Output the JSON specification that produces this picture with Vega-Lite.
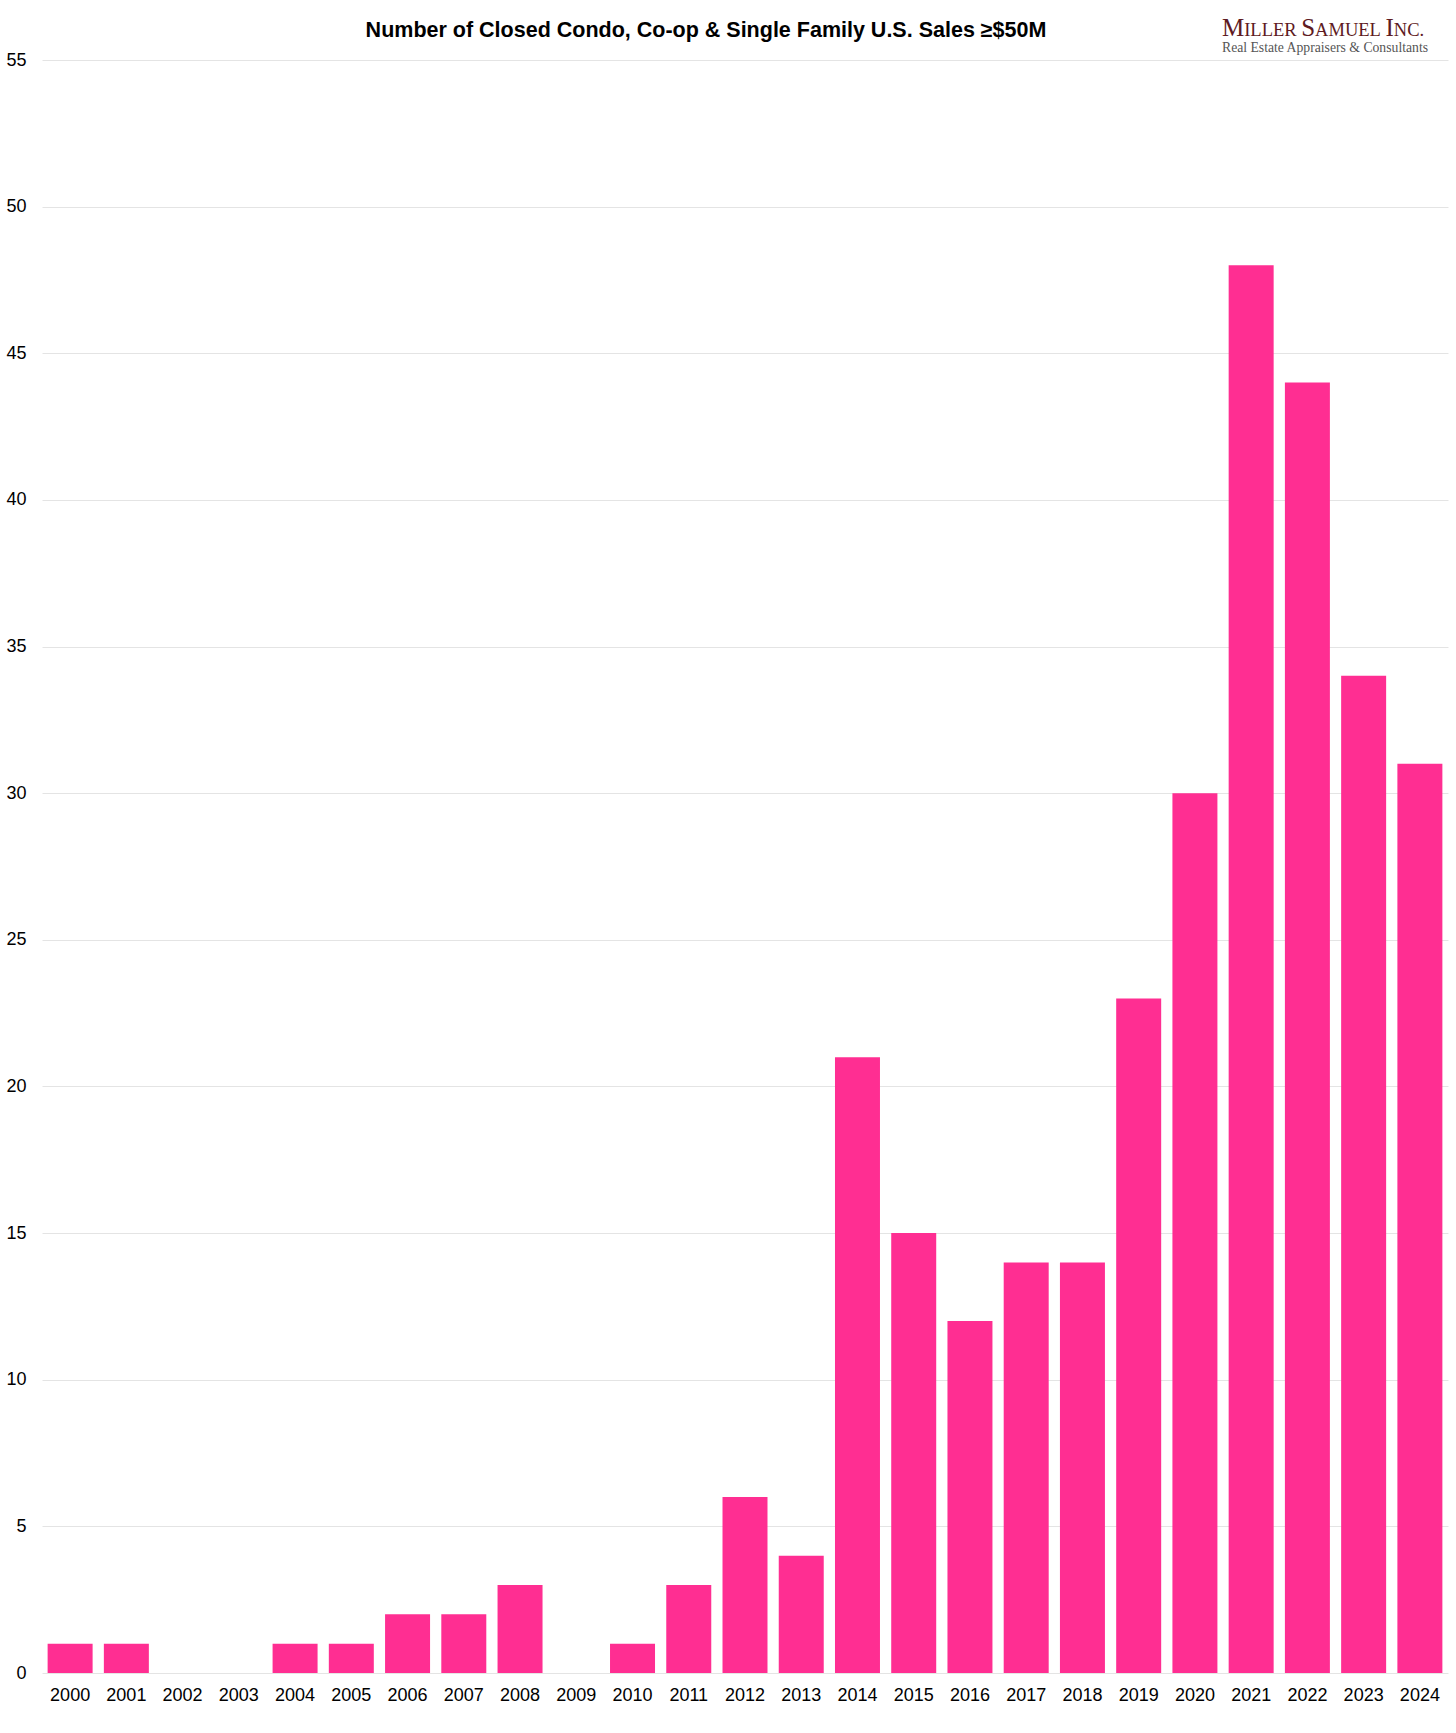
{
  "$schema": "https://vega.github.io/schema/vega-lite/v6.json",
  "width": 1406,
  "height": 1613,
  "autosize": {"type": "none"},
  "padding": {"left": 42, "top": 60, "right": 8, "bottom": 60},
  "background": "white",
  "config": {
    "view": {"stroke": null},
    "font": "Liberation Sans"
  },
  "data": {
    "values": [
      {"year": "2000", "sales": 1},
      {"year": "2001", "sales": 1},
      {"year": "2002", "sales": 0},
      {"year": "2003", "sales": 0},
      {"year": "2004", "sales": 1},
      {"year": "2005", "sales": 1},
      {"year": "2006", "sales": 2},
      {"year": "2007", "sales": 2},
      {"year": "2008", "sales": 3},
      {"year": "2009", "sales": 0},
      {"year": "2010", "sales": 1},
      {"year": "2011", "sales": 3},
      {"year": "2012", "sales": 6},
      {"year": "2013", "sales": 4},
      {"year": "2014", "sales": 21},
      {"year": "2015", "sales": 15},
      {"year": "2016", "sales": 12},
      {"year": "2017", "sales": 14},
      {"year": "2018", "sales": 14},
      {"year": "2019", "sales": 23},
      {"year": "2020", "sales": 30},
      {"year": "2021", "sales": 48},
      {"year": "2022", "sales": 44},
      {"year": "2023", "sales": 34},
      {"year": "2024", "sales": 31}
    ]
  },
  "layer": [
    {
      "mark": {"type": "bar", "color": "#ff2e92"},
      "encoding": {
        "x": {
          "field": "year",
          "type": "ordinal",
          "scale": {"paddingInner": 0.2, "paddingOuter": 0.1},
          "axis": {
            "title": null,
            "labelAngle": 0,
            "domain": false,
            "ticks": false,
            "tickSize": 0,
            "labelPadding": 13,
            "labelFontSize": 18,
            "labelColor": "#000000",
            "labelFont": "Liberation Sans"
          }
        },
        "y": {
          "field": "sales",
          "type": "quantitative",
          "scale": {"domain": [0, 55], "nice": false},
          "axis": {
            "title": null,
            "values": [0, 5, 10, 15, 20, 25, 30, 35, 40, 45, 50, 55],
            "grid": true,
            "gridColor": "#e4e4e4",
            "gridWidth": 1,
            "domain": false,
            "ticks": false,
            "tickSize": 0,
            "labelPadding": 16,
            "labelFontSize": 18,
            "labelColor": "#000000",
            "labelFont": "Liberation Sans",
            "labelFlush": false
          }
        }
      }
    },
    {
      "data": {"values": [{"t": "title"}]},
      "mark": {"type": "text", "text": "Number of Closed Condo, Co-op & Single Family U.S. Sales ≥$50M", "font": "Liberation Sans", "fontSize": 21.5, "fontWeight": "bold", "color": "#000000", "align": "center", "baseline": "alphabetic", "x": {"expr": "width / 2 - 39"}, "y": -23.3},
      "encoding": {}
    },
    {
      "data": {"values": [{"t": "M"}]},
      "mark": {"type": "text", "text": "M", "font": "Liberation Serif", "fontSize": 25, "color": "#5e1a22", "align": "left", "baseline": "alphabetic", "x": {"expr": "width - 226"}, "y": -24},
      "encoding": {}
    },
    {
      "data": {"values": [{"t": "ILLER"}]},
      "mark": {"type": "text", "text": "ILLER", "font": "Liberation Serif", "fontSize": 18.5, "color": "#5e1a22", "align": "left", "baseline": "alphabetic", "x": {"expr": "width - 226 + 22.2"}, "y": -24},
      "encoding": {}
    },
    {
      "data": {"values": [{"t": "S"}]},
      "mark": {"type": "text", "text": "S", "font": "Liberation Serif", "fontSize": 25, "color": "#5e1a22", "align": "left", "baseline": "alphabetic", "x": {"expr": "width - 226 + 79.2"}, "y": -24},
      "encoding": {}
    },
    {
      "data": {"values": [{"t": "AMUEL"}]},
      "mark": {"type": "text", "text": "AMUEL", "font": "Liberation Serif", "fontSize": 18.5, "color": "#5e1a22", "align": "left", "baseline": "alphabetic", "x": {"expr": "width - 226 + 93.1"}, "y": -24},
      "encoding": {}
    },
    {
      "data": {"values": [{"t": "I"}]},
      "mark": {"type": "text", "text": "I", "font": "Liberation Serif", "fontSize": 25, "color": "#5e1a22", "align": "left", "baseline": "alphabetic", "x": {"expr": "width - 226 + 163.5"}, "y": -24},
      "encoding": {}
    },
    {
      "data": {"values": [{"t": "NC."}]},
      "mark": {"type": "text", "text": "NC.", "font": "Liberation Serif", "fontSize": 18.5, "color": "#5e1a22", "align": "left", "baseline": "alphabetic", "x": {"expr": "width - 226 + 171.8"}, "y": -24},
      "encoding": {}
    },
    {
      "data": {"values": [{"t": "Real Estate Appraisers & Consultants"}]},
      "mark": {"type": "text", "text": "Real Estate Appraisers & Consultants", "font": "Liberation Serif", "fontSize": 13.7, "color": "#555555", "align": "left", "baseline": "alphabetic", "x": {"expr": "width - 226"}, "y": -8.3},
      "encoding": {}
    }
  ]
}
